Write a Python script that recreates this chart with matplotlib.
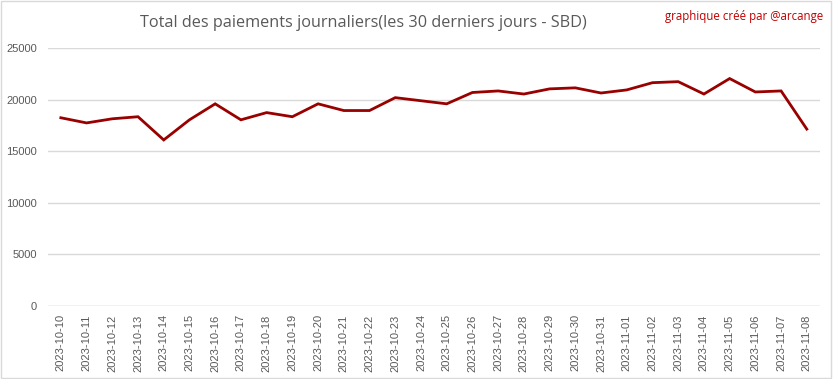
import matplotlib
matplotlib.use("Agg")
import matplotlib.pyplot as plt
from matplotlib.patches import Rectangle

dates = ["2023-10-10","2023-10-11","2023-10-12","2023-10-13","2023-10-14","2023-10-15",
         "2023-10-16","2023-10-17","2023-10-18","2023-10-19","2023-10-20","2023-10-21",
         "2023-10-22","2023-10-23","2023-10-24","2023-10-25","2023-10-26","2023-10-27",
         "2023-10-28","2023-10-29","2023-10-30","2023-10-31","2023-11-01","2023-11-02",
         "2023-11-03","2023-11-04","2023-11-05","2023-11-06","2023-11-07","2023-11-08"]
values = [18250, 17750, 18150, 18350, 16100, 18050, 19600, 18050, 18750, 18350,
          19600, 18950, 18950, 20200, 19900, 19600, 20700, 20850, 20550, 21050,
          21150, 20650, 20950, 21650, 21750, 20550, 22050, 20750, 20850, 17150]
yticks = [0, 5000, 10000, 15000, 20000, 25000]

fig = plt.figure(figsize=(8.33, 3.79), dpi=100)
ax = fig.add_axes([0.0576, 0.1926, 0.9264, 0.6804])
x = list(range(len(dates)))
ax.plot(x, values, color="#990000", linewidth=2, solid_joinstyle="miter")
ax.set_xlim(-0.5, len(dates) - 0.5)
ax.set_ylim(0, 25000)
ax.set_yticks(yticks)
ax.set_yticklabels([str(v) for v in yticks])
ax.set_xticks(x)
ax.set_xticklabels(dates, rotation=90)
ax.tick_params(axis="both", length=0, colors="#595959")
ax.tick_params(axis="y", pad=8, labelsize=8)
ax.tick_params(axis="x", pad=6, labelsize=8)
for lab in ax.get_xticklabels():
    lab.set_family("Liberation Sans")
for lab in ax.get_yticklabels():
    lab.set_family("Liberation Sans")
ax.grid(axis="y", color="#d9d9d9", linewidth=1)
ax.set_axisbelow(True)
for s in ax.spines.values():
    s.set_visible(False)
ax.axhline(0, color="#d9d9d9", linewidth=1, zorder=0)

fig.text(0.436, 0.94, "Total des paiements journaliers(les 30 derniers jours - SBD)",
         ha="center", va="center", fontsize=11.7, color="#595959", family="Open Sans")
fig.text(0.988, 0.957, "graphique créé par @arcange", ha="right", va="center",
         fontsize=8.3, color="#c00000", family="Open Sans")
fig.patches.append(Rectangle((0.001, 0.002), 0.997, 0.995, transform=fig.transFigure,
                             fill=False, edgecolor="#d9d9d9", linewidth=1))
fig.savefig("out.png", dpi=100)
